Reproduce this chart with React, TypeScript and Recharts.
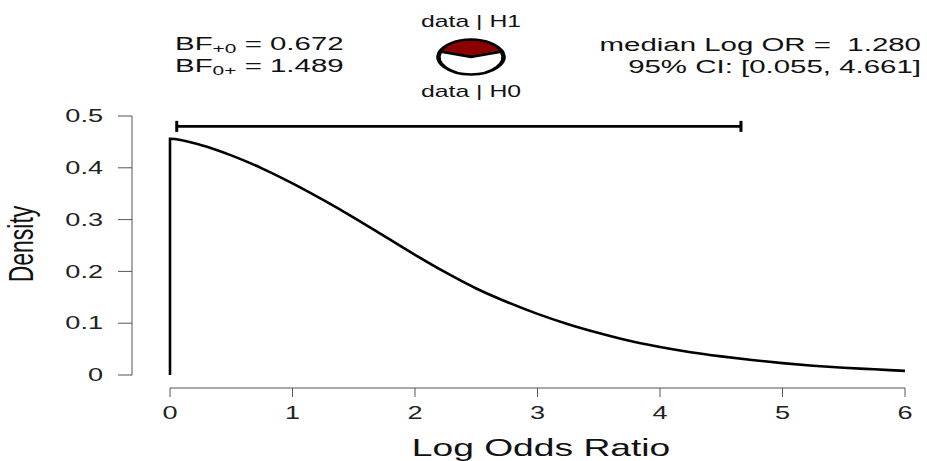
import { LineChart, Line, XAxis, YAxis, PieChart, Pie, Cell } from "recharts";

// posterior density of the log odds ratio
const densityX = [
  0, 0, 0.25, 0.5, 0.75, 1, 1.25, 1.5, 1.75, 2, 2.25, 2.5, 2.75, 3, 3.25, 3.5, 3.75, 4, 4.25,
  4.5, 4.75, 5, 5.25, 5.5, 5.75, 6,
];
const densityY = [
  0, 0.456, 0.444, 0.424, 0.399, 0.37, 0.338, 0.304, 0.268, 0.232, 0.198, 0.167, 0.141, 0.118,
  0.098, 0.081, 0.066, 0.054, 0.044, 0.036, 0.029, 0.023, 0.018, 0.014, 0.011, 0.008,
];

const xTicks = [0, 1, 2, 3, 4, 5, 6];
const yTicks = [0, 0.1, 0.2, 0.3, 0.4, 0.5];

const ciBounds = [0.055, 4.661];
const ciLevel = 0.48; // height where the CI bar sits

const bfPlus0 = 0.672;
const bf0Plus = 1.489;
const medianLogOR = 1.28;

// data | H1 vs data | H0 pizza
const pieShares = [
  { name: "data | H1", value: bfPlus0 },
  { name: "data | H0", value: 1 },
];
const pieColors = ["#8b0000", "#ffffff"];

const densityData = densityX.map((x, i) => ({ x, y: densityY[i] }));
const ciData = ciBounds.map((x) => ({ x, y: ciLevel }));

const FONT = '"Liberation Sans", Arial, Helvetica, sans-serif';
const SX = 1.55; // the original render is stretched sideways
const AXIS = "#555";

function XTick({ x, y, payload }: any) {
  return (
    <g transform={`translate(${x},${y}) scale(${SX},1)`}>
      <text textAnchor="middle" dy="0.71em" fontSize={17.5} fill="#222" fontFamily={FONT}>
        {payload.value}
      </text>
    </g>
  );
}

function YTick({ x, y, payload }: any) {
  return (
    <g transform={`translate(${x},${y}) scale(${SX},1)`}>
      <text textAnchor="end" dy="0.355em" fontSize={17.5} fill="#222" fontFamily={FONT}>
        {payload.value}
      </text>
    </g>
  );
}

function CapDot({ cx, cy }: any) {
  return <line x1={cx} x2={cx} y1={cy - 5.5} y2={cy + 5.5} stroke="#000" strokeWidth={3} />;
}

function Stretched({ x, y, anchor = "start", size, rotate, children }: any) {
  return (
    <g transform={`translate(${x},${y}) scale(${SX},1)${rotate ? ` rotate(${rotate})` : ""}`}>
      <text
        textAnchor={anchor}
        fontSize={size}
        fill="#111"
        fontFamily={FONT}
        style={{ whiteSpace: "pre" }}
      >
        {children}
      </text>
    </g>
  );
}

export default function App() {
  const h1Share = pieShares[0].value / (pieShares[0].value + pieShares[1].value);
  const startAngle = 90 + 180 * h1Share;

  return (
    <div style={{ position: "absolute", left: 0, top: 0, width: 927, height: 461, background: "#fff" }}>
      <LineChart width={927} height={461} margin={{ top: 116, right: 22, bottom: 13, left: 32 }}>
        <XAxis
          dataKey="x"
          type="number"
          domain={[0, 6]}
          ticks={xTicks}
          padding={{ left: 38, right: 0 }}
          height={60}
          tickSize={9}
          tickMargin={10}
          tick={(p: any) => <XTick {...p} />}
          axisLine={{ stroke: AXIS, strokeWidth: 1, strokeDasharray: "0 38 800" }}
          tickLine={{ stroke: AXIS, strokeWidth: 1 }}
        />
        <YAxis
          type="number"
          domain={[0, 0.5]}
          ticks={yTicks}
          padding={{ top: 0, bottom: 13 }}
          width={100}
          tickSize={14}
          tickMargin={15}
          tick={(p: any) => <YTick {...p} />}
          axisLine={{ stroke: AXIS, strokeWidth: 1, strokeDasharray: "259.3 20" }}
          tickLine={{ stroke: AXIS, strokeWidth: 1 }}
        />
        <Line
          data={densityData}
          dataKey="y"
          type="monotone"
          stroke="#000"
          strokeWidth={2.6}
          dot={false}
          isAnimationActive={false}
        />
        <Line
          data={ciData}
          dataKey="y"
          type="linear"
          stroke="#000"
          strokeWidth={2.6}
          dot={(p: any) => <CapDot key={p.index} {...p} />}
          isAnimationActive={false}
        />
      </LineChart>

      <svg
        width={927}
        height={461}
        style={{ position: "absolute", left: 0, top: 0, pointerEvents: "none" }}
      >
        <Stretched x={175} y={50} size={19}>
          BF
          <tspan fontSize={13.5} dy={3}>+0</tspan>
          <tspan dy={-3}>{` = ${bfPlus0.toFixed(3)}`}</tspan>
        </Stretched>
        <Stretched x={175} y={72} size={19}>
          BF
          <tspan fontSize={13.5} dy={3}>0+</tspan>
          <tspan dy={-3}>{` = ${bf0Plus.toFixed(3)}`}</tspan>
        </Stretched>

        <Stretched x={471} y={27} anchor="middle" size={16}>
          data | H1
        </Stretched>
        <Stretched x={471} y={97} anchor="middle" size={16}>
          data | H0
        </Stretched>

        <Stretched x={921} y={51} anchor="end" size={19}>
          {`median Log OR =  ${medianLogOR.toFixed(3)}`}
        </Stretched>
        <Stretched x={921} y={73} anchor="end" size={19}>
          {`95% CI: [${ciBounds[0].toFixed(3)}, ${ciBounds[1].toFixed(3)}]`}
        </Stretched>

        <Stretched x={541} y={456} anchor="middle" size={24}>
          Log Odds Ratio
        </Stretched>
        <Stretched x={33} y={244} anchor="middle" size={23} rotate={-90}>
          Density
        </Stretched>
      </svg>

      <div
        style={{
          position: "absolute",
          left: 471 - 21,
          top: 57 - 21,
          width: 42,
          height: 42,
          transform: "scaleX(1.85)",
          transformOrigin: "center",
        }}
      >
        <PieChart width={42} height={42} margin={{ top: 0, right: 0, bottom: 0, left: 0 }}>
          <Pie
            data={pieShares}
            dataKey="value"
            cx={21}
            cy={21}
            outerRadius={17.5}
            innerRadius={0}
            startAngle={startAngle}
            endAngle={startAngle - 360}
            stroke="#000"
            strokeWidth={2.4}
            isAnimationActive={false}
          >
            {pieShares.map((s, i) => (
              <Cell key={s.name} fill={pieColors[i]} />
            ))}
          </Pie>
        </PieChart>
      </div>
    </div>
  );
}
